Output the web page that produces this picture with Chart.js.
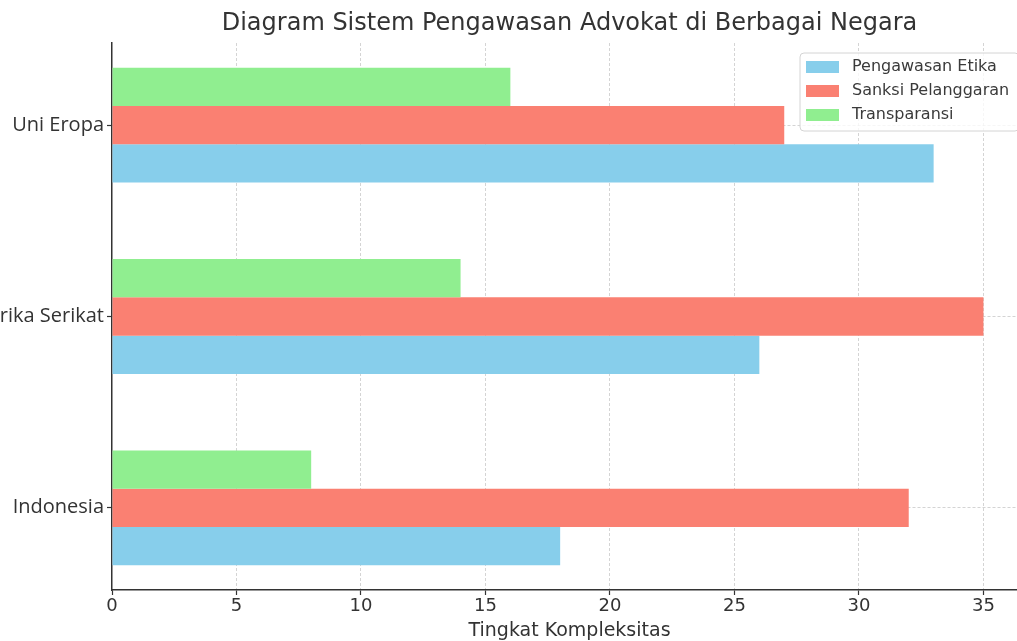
<!DOCTYPE html>
<html>
<head>
<meta charset="utf-8">
<script src="https://cdn.jsdelivr.net/npm/chart.js@4"></script>
<style>
    html, body { margin: 0; padding: 0; background: #fff; overflow: hidden; width: 1017px; height: 641px; }
    /* the reference is a crop of a wider figure, so the canvas is shifted left */
    #wrap { position: absolute; left: -60px; top: 0; }
</style>
</head>
<body>
<div id="wrap"><canvas id="chart" width="1117" height="662"></canvas></div>
<script>
/* ---------------- Data ---------------- */

const categories = ["Indonesia", "Amerika Serikat", "Uni Eropa"];
const pengawasanEtika = [18, 26, 33];
const sanksiPelanggaran = [32, 35, 27];
const transparansi = [8, 14, 16];
const xTicks = [0, 5, 10, 15, 20, 25, 30, 35];

const toPoints = arr => arr.map((v, i) => ({ x: v, y: i }));

/* ---------------- Legend inside the plot ---------------- */

const legendBox = {
    id: "legendBox",
    afterDraw(chart) {
        const { ctx, chartArea } = chart;
        const items = chart.data.datasets.slice().reverse();
        const w = 219, h = 78;
        const x0 = chartArea.right - 8 - w;
        const y0 = chartArea.top + 10;

        ctx.save();
        ctx.setLineDash([]);
        ctx.beginPath();
        ctx.roundRect(x0, y0, w, h, 4);
        ctx.fillStyle = "rgba(255,255,255,0.8)";
        ctx.fill();
        ctx.strokeStyle = "#d4d4d4";
        ctx.lineWidth = 1;
        ctx.stroke();

        ctx.font = '16px "DejaVu Sans"';
        ctx.textBaseline = "middle";
        items.forEach((ds, i) => {
            const cy = y0 + 14 + i * 24;
            ctx.fillStyle = ds.backgroundColor;
            ctx.fillRect(x0 + 6, cy - 6, 33, 12);
            ctx.fillStyle = "#3a3a3a";
            ctx.fillText(ds.label, x0 + 52, cy);
        });
        ctx.restore();
    }
};

/* ---------------- Chart ---------------- */

const gridColor = "rgba(176,176,176,0.55)";

const gridStyle = {
    // skip the grid line that would sit on top of the left spine
    color: c => (c.scale.axis === "x" && c.tick && c.tick.value === 0) ? "rgba(0,0,0,0)" : gridColor,
    lineWidth: 1,
    tickLength: 5,
    tickColor: "#333",
    tickWidth: 1.2,
    tickBorderDash: [],
    offset: false
};

const borderStyle = { display: true, color: "#333", width: 1.5, dash: [3, 2] };

new Chart(document.getElementById("chart"), {
    type: "bar",
    data: {
        datasets: [
            { label: "Transparansi", data: toPoints(transparansi), backgroundColor: "#90EE90" },
            { label: "Sanksi Pelanggaran", data: toPoints(sanksiPelanggaran), backgroundColor: "#FA8072" },
            { label: "Pengawasan Etika", data: toPoints(pengawasanEtika), backgroundColor: "#87CEEB" }
        ]
    },
    options: {
        indexAxis: "y",
        responsive: false,
        animation: false,
        categoryPercentage: 0.6,
        barPercentage: 1.0,
        layout: { padding: { left: 0, right: 30, top: 0, bottom: 20 } },
        plugins: {
            legend: { display: false },
            tooltip: { enabled: false },
            title: {
                display: true,
                text: "Diagram Sistem Pengawasan Advokat di Berbagai Negara",
                fullSize: false,
                color: "#333",
                font: { family: "DejaVu Sans", size: 24, weight: "normal" },
                padding: { top: 9.6, bottom: 4.6 }
            }
        },
        scales: {
            x: {
                type: "linear",
                position: "bottom",
                min: 0,
                max: 36.75,
                z: 1,
                afterFit: s => { s.height = 52; },
                afterBuildTicks: s => { s.ticks = xTicks.map(v => ({ value: v })); },
                grid: gridStyle,
                border: borderStyle,
                ticks: {
                    color: "#333",
                    padding: 1,
                    font: { family: "DejaVu Sans", size: 18 }
                },
                title: {
                    display: true,
                    text: "Tingkat Kompleksitas",
                    color: "#333",
                    padding: 0,
                    font: { family: "DejaVu Sans", size: 19 }
                }
            },
            y: {
                type: "linear",
                position: "left",
                min: -0.43,
                max: 2.43,
                offset: false,
                z: 1,
                afterFit: s => { s.width = 172; },
                afterBuildTicks: s => { s.ticks = categories.map((c, i) => ({ value: i })); },
                grid: gridStyle,
                border: borderStyle,
                ticks: {
                    color: "#333",
                    padding: 3,
                    font: { family: "Open Sans", size: 20 },
                    callback: v => categories[v]
                }
            }
        }
    },
    plugins: [legendBox]
});
</script>
</body>
</html>
